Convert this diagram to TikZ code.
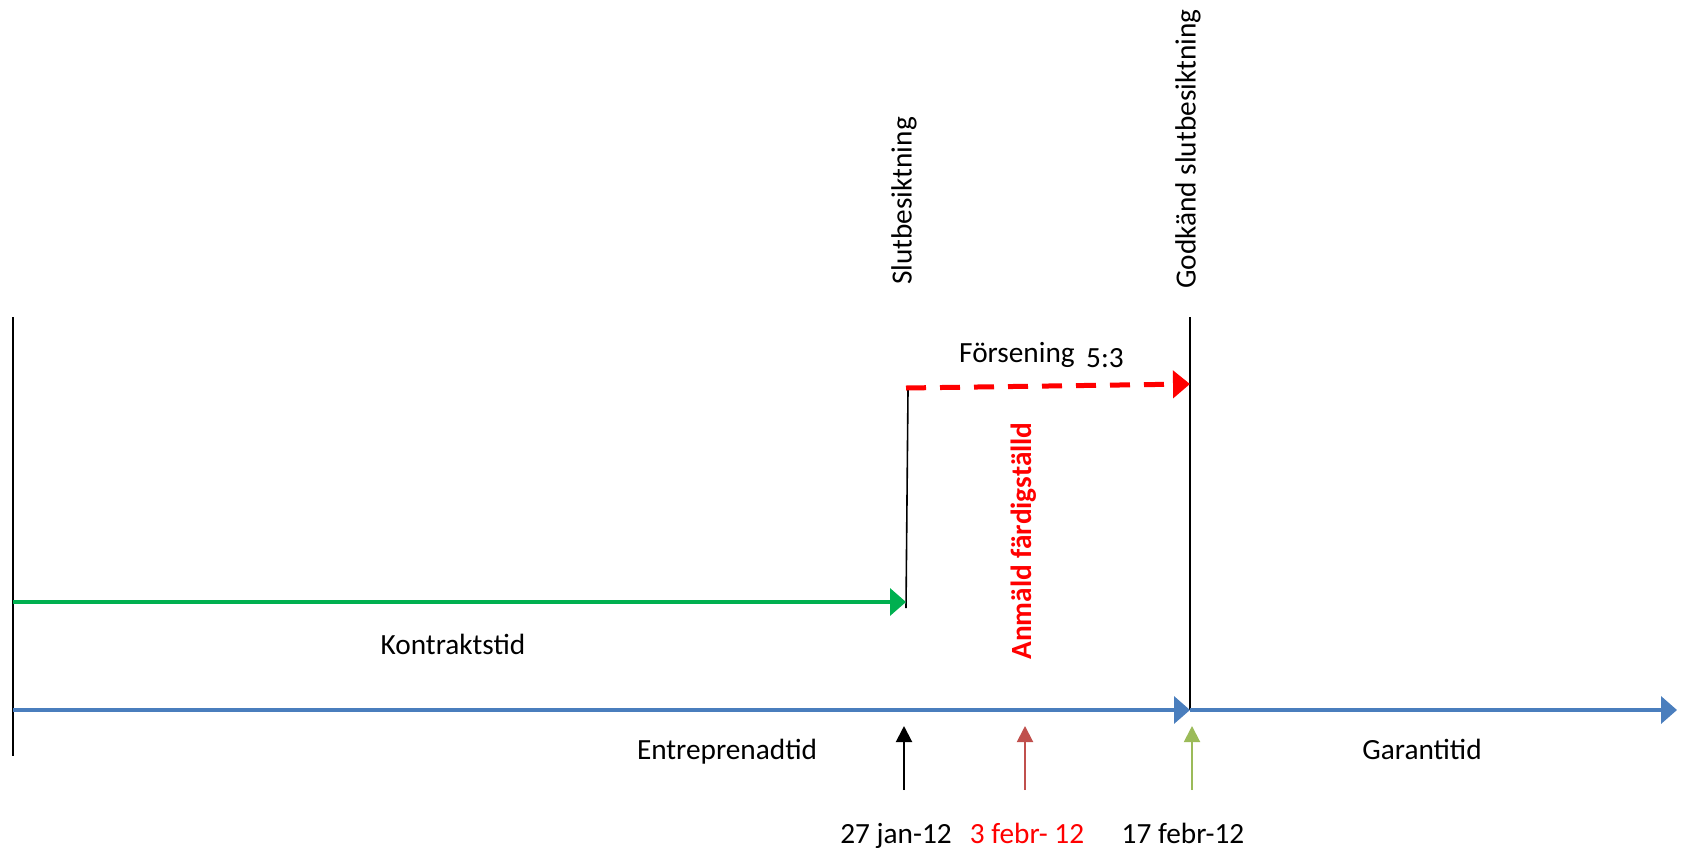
\documentclass[tikz,border=0pt]{standalone}
\usepackage{fontspec}
\setmainfont{Carlito}
\usepackage{tikz}
\usetikzlibrary{arrows.meta}
\usetikzlibrary{positioning}
\definecolor{timeblue}{RGB}{74,126,189}
\definecolor{contractgreen}{RGB}{0,176,80}
\definecolor{delayred}{RGB}{255,0,0}
\definecolor{markred}{RGB}{192,80,77}
\definecolor{markgreen}{RGB}{155,187,89}

\begin{document}
\begin{tikzpicture}[
			x=1pt, y=-1pt,
			every node/.style={font=\fontsize{29.3}{35}\selectfont, inner sep=0pt},
			timeline/.style={draw=timeblue, line width=3.5pt, -{Triangle[length=16pt, width=27pt]}},
			contract/.style={draw=contractgreen, line width=3.5pt, -{Triangle[length=16pt, width=27pt]}},
			delay/.style={draw=delayred, line width=5pt, dash pattern=on 20pt off 14pt, -{Triangle[length=17pt, width=27pt]}},
			datearrow/.style={line width=2pt, -{Triangle[length=16pt, width=16pt]}},
			edge/.style={draw=black, line width=1.6pt}
		]
		\useasboundingbox (0,0) rectangle (1681,852);

		% points on the time axis
		\coordinate (start) at (13,710);
		\coordinate (godk) at (1190,710);
		\coordinate (axisend) at (1677,710);
		\coordinate (leftTop) at (13,317);
		\coordinate (leftBot) at (13,756);
		\coordinate (rightTop) at (1190,317);
		\coordinate (greenA) at (13,602);
		\coordinate (greenB) at (906,602);
		\coordinate (slutBot) at (906,608);
		\coordinate (slutTop) at (908,390);
		\coordinate (delayA) at (906,388);
		\coordinate (delayB) at (1190,384);

		\draw[edge] (leftTop) -- (leftBot);
		\draw[edge] (rightTop) -- (godk);
		\draw[edge] (slutBot) -- (slutTop);

		\draw[timeline] (start) -- (godk);
		\draw[timeline] (godk) -- (axisend);
		\draw[contract] (greenA) -- (greenB);
		\draw[delay] (delayA) -- (delayB);

		\node (kontrakt) [anchor=base] at (453,654) {Kontraktstid};
		\node (entre) [anchor=base] at (727,759) {Entreprenadtid};
		\node (garanti) [anchor=base] at (1422,759) {Garantitid};

		\node (forsening) [anchor=base west] at (959,362) {Försening};
		\node (paragraf) [anchor=base west] at (1086,367) {5:3};

		\node (slutbes) [rotate=90] at (904,201) {Slutbesiktning};
		\node (godkand) [rotate=90] at (1188,149) {Godkänd slutbesiktning};
		\node (anmald) [rotate=90, text=delayred, font=\fontsize{29.3}{35}\selectfont\bfseries] at (1024,541) {Anmäld färdigställd};

		% dates with arrows up to the axis
		\foreach \x/\txt/\tcol [count=\i] in {896/27 jan-12/black, 1027/3 febr- 12/delayred, 1183/17 febr-12/black} {
				\node (date\i) [anchor=base, text=\tcol] at (\x,843) {\txt};
			}
		\foreach \x/\col [count=\i] in {904/black, 1025/markred, 1192/markgreen} {
				\coordinate (markBot\i) at (\x,790);
				\coordinate (markTop\i) at (\x,726);
				\draw[datearrow, draw=\col, fill=\col] (markBot\i) -- (markTop\i);
			}
	\end{tikzpicture}
\end{document}
